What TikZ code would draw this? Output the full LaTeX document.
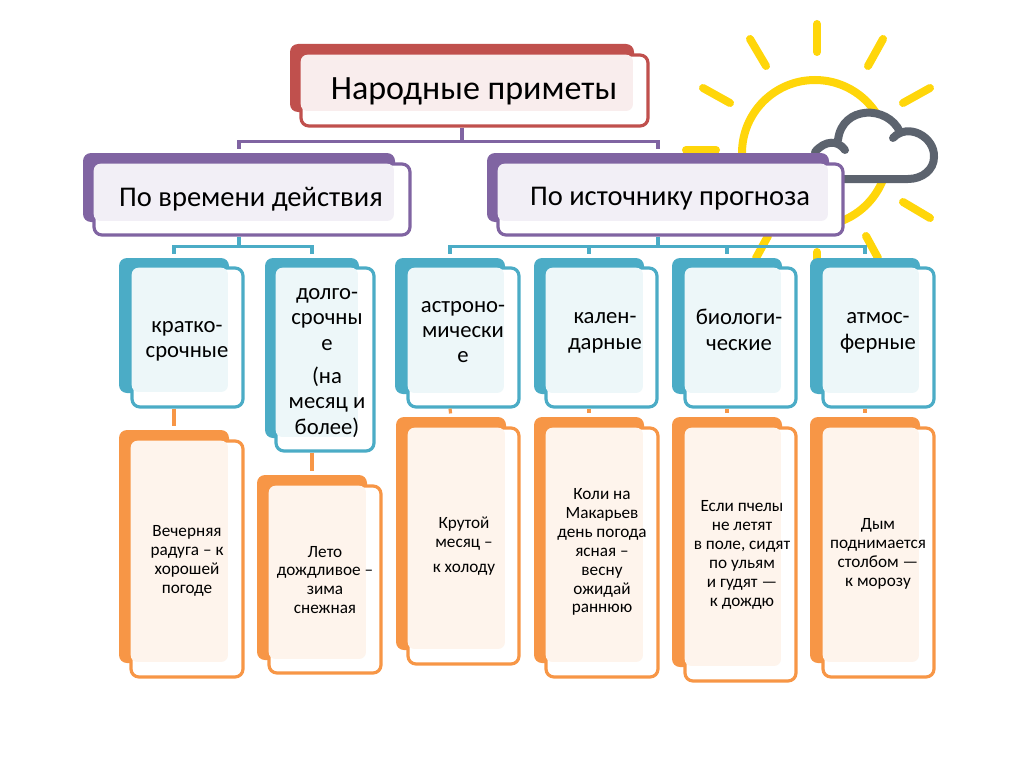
\documentclass[tikz,border=0pt]{standalone}
\usepackage{fontspec}
\setmainfont{Carlito}
\usepackage{xcolor}
\usepackage{tikz}
\usetikzlibrary{fit,calc}
\definecolor{brick}{HTML}{C0504D}
\definecolor{plum}{HTML}{8064A2}
\definecolor{sea}{HTML}{4BACC6}
\definecolor{peach}{HTML}{F79646}
\definecolor{sunny}{HTML}{FFD60A}
\definecolor{cloudy}{HTML}{5C636E}
\tikzset{
  backbox/.style={rectangle, rounded corners=6pt, draw=none, fill=#1, inner sep=0pt},
  frontbox/.style={rectangle, rounded corners=6pt, draw=#1, fill=white, line width=2.4pt, inner sep=0pt},
  tintbox/.style={rectangle, rounded corners=5pt, draw=none, fill=#1!10, inner sep=-1pt},
  toptxt/.style={align=center, inner sep=0pt, font=\fontsize{25.5}{28}\selectfont},
  midtxt/.style={align=center, inner sep=0pt, font=\fontsize{21.4}{24}\selectfont},
  lowtxt/.style={align=center, inner sep=0pt, font=\fontsize{17}{19}\selectfont},
  coltxt/.style={align=center, inner sep=0pt, font=\fontsize{12.9}{14.2}\selectfont},
  link/.style={draw=#1, line width=2.4pt, shorten >=2.5pt},
  ray/.style={draw=sunny, line width=6pt, line cap=round},
  cloudline/.style={draw=cloudy, line width=6pt, line cap=round}
}
% name, colour, back corners, front corners
\newcommand{\card}[4]{%
  \node[backbox=#2, fit={#3}] (#1back) {};
  \node[frontbox=#2, fit={#4}] (#1) {};
  \node[tintbox=#2, fit={(#1.north west)(#1back.south east)}] (#1tint) {};
}
\begin{document}
\begin{tikzpicture}[x=0.75pt, y=-0.75pt]
 \useasboundingbox (0,0) rectangle (1024,767);
 % sun and cloud
 \coordinate (suncentre) at (815,153);
 \draw[draw=sunny, line width=6pt] (suncentre) circle [radius=73];
 \draw[ray] (817,24) -- (817,52);
 \draw[ray] (750,39) -- (766,66);
 \draw[ray] (883,39) -- (868,66);
 \draw[ray] (703,88) -- (730,103);
 \draw[ray] (930,88) -- (903,103);
 \draw[ray] (686,150) -- (716,150);
 \draw[ray] (903,202) -- (930,218);
 \draw[ray] (768,236) -- (756,258);
 \draw[ray] (866,236) -- (878,258);
 \draw[ray] (817,252) -- (817,270);
 \path[fill=white] (840,180) .. controls (818,180) and (818,148) .. (838,146) .. controls (838,100) and (895,100) .. (900,133) .. controls (945,125) and (950,180) .. (910,180) -- cycle;
 \draw[cloudline] (838,140) .. controls (842,105) and (888,105) .. (900,132);
 \draw[cloudline] (893,138) .. controls (908,122) and (935,137) .. (934,157) .. controls (934,170) and (922,179) .. (908,179) -- (838,179);
 \draw[cloudline] (845,150) .. controls (838,140) and (825,140) .. (815,152);
 % boxes
 \card{root}{brick}{(290,44)(634,112)}{(301,55)(648,126)}
 \card{time}{plum}{(83,153)(395,222)}{(94,164)(410,235)}
 \card{source}{plum}{(487,153)(829,222)}{(498,164)(843,235)}
 \card{shortterm}{sea}{(119,258)(229,393)}{(132,268)(243,407)}
 \card{longterm}{sea}{(265,258)(359,438)}{(276,268)(374,451)}
 \card{astro}{sea}{(395,258)(505,394)}{(408,268)(519,407)}
 \card{calendar}{sea}{(534,258)(644,394)}{(546,268)(657,407)}
 \card{bio}{sea}{(672,258)(782,394)}{(685,268)(796,407)}
 \card{atmos}{sea}{(810,258)(920,394)}{(823,268)(934,407)}
 \card{rainbow}{peach}{(119,430)(229,663)}{(131,441)(243,677)}
 \card{summer}{peach}{(257,475)(367,660)}{(269,486)(381,673)}
 \card{moon}{peach}{(396,417)(506,650)}{(408,428)(519,664)}
 \card{makary}{peach}{(534,417)(644,663)}{(546,428)(658,677)}
 \card{bees}{peach}{(672,417)(782,667)}{(685,428)(796,681)}
 \card{smoke}{peach}{(810,417)(920,663)}{(823,428)(934,677)}
 % labels
 \node[toptxt] (roottxt) at (474,91) {Народные приметы};
 \node[midtxt] (timetxt) at (251,199) {По времени действия};
 \node[midtxt] (sourcetxt) at (670,199) {По источнику прогноза};
 \node[lowtxt] (shorttermtxt) at (187,341) {кратко-\\срочные};
 \node[lowtxt] (longtermtxt) at (327,363) {долго-\\срочны\\е\\[6pt](на\\месяц и\\более)};
 \node[lowtxt] (astrotxt) at (463,332) {астроно-\\мически\\е};
 \node[lowtxt] (calendartxt) at (605,333) {кален-\\дарные};
 \node[lowtxt] (biotxt) at (739,330) {биологи-\\ческие};
 \node[lowtxt] (atmostxt) at (878,333) {атмос-\\ферные};
 \node[coltxt] (rainbowtxt) at (187,561) {Вечерняя\\радуга – к\\хорошей\\погоде};
 \node[coltxt] (summertxt) at (325,580) {Лето\\дождливое –\\зима\\снежная};
 \node[coltxt] (moontxt) at (464,546) {Крутой\\месяц –\\[5pt]к холоду};
 \node[coltxt] (makarytxt) at (602,552) {Коли на\\Макарьев\\день погода\\ясная –\\весну\\ожидай\\раннюю};
 \node[coltxt] (beestxt) at (742,555) {Если пчелы\\не летят\\в поле, сидят\\по ульям\\и гудят —\\к дождю};
 \node[coltxt] (smoketxt) at (878,554) {Дым\\поднимается\\столбом —\\к морозу};
 % connectors
 \draw[link=plum] (rootback.south |- root.south) -- ++(0,14) -| (timeback.north);
 \draw[link=plum] (rootback.south |- root.south) -- ++(0,14) -| (sourceback.north);
 \draw[link=sea] (timeback.south |- time.south) -- ++(0,10) -| (shorttermback.north);
 \draw[link=sea] (timeback.south |- time.south) -- ++(0,10) -| (longtermback.north);
 \draw[link=sea] (sourceback.south |- source.south) -- ++(0,10) -| (astroback.north);
 \draw[link=sea] (sourceback.south |- source.south) -- ++(0,10) -| (calendarback.north);
 \draw[link=sea] (sourceback.south |- source.south) -- ++(0,10) -| (bioback.north);
 \draw[link=sea] (sourceback.south |- source.south) -- ++(0,10) -| (atmosback.north);
 \draw[link=peach] (shorttermback.south |- shortterm.south) -- (rainbowback.north);
 \draw[link=peach] (longtermback.south |- longterm.south) -- (longtermback.south |- summerback.north);
 \draw[link=peach] (astroback.south |- astro.south) -- (moonback.north);
 \draw[link=peach] (calendarback.south |- calendar.south) -- (makaryback.north);
 \draw[link=peach] (bioback.south |- bio.south) -- (beesback.north);
 \draw[link=peach] (atmosback.south |- atmos.south) -- (smokeback.north);
\end{tikzpicture}
\end{document}
